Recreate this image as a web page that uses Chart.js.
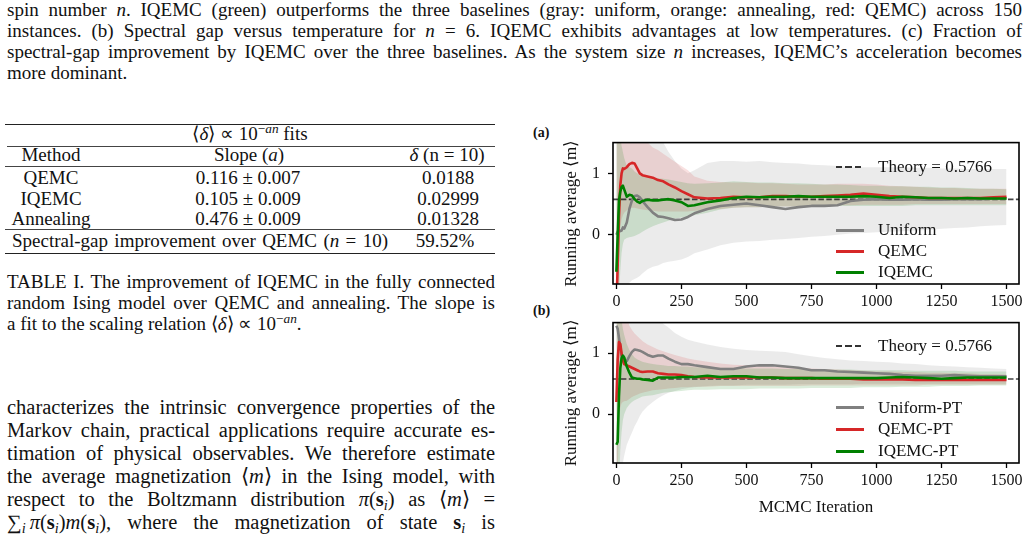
<!DOCTYPE html>
<html>
<head>
<meta charset="utf-8">
<script src="https://cdn.jsdelivr.net/npm/chart.js@4.4.0/dist/chart.umd.min.js"></script>
<style>
html,body{margin:0;padding:0;background:#fff;}
body{width:1029px;height:544px;overflow:hidden;position:relative;font-family:'Liberation Serif','Times New Roman',serif;color:#111;}
.t{position:absolute;white-space:nowrap;font-size:19px;line-height:22px;transform-origin:left center;}
.t.b{font-size:20.5px;line-height:24px;}
.t sub{font-size:0.7em;vertical-align:-0.25em;line-height:0;}
.t sup{font-size:0.7em;vertical-align:0.5em;line-height:0;}
.rule{position:absolute;background:#222;}
.lgt{position:absolute;white-space:nowrap;font-size:17px;line-height:20px;color:#111;}
.hd{position:absolute;width:28px;height:3px;}
.pl{position:absolute;font-weight:bold;font-size:14px;line-height:16px;}
canvas{position:absolute;}
</style>
</head>
<body>
<!-- top caption -->
<div class="t" data-m="j" data-w="1015" style="left:7px;top:-1px">spin number <i>n</i>. IQEMC (green) outperforms the three baselines (gray: uniform, orange: annealing, red: QEMC) across 150</div>
<div class="t" data-m="j" data-w="1015" style="left:7px;top:20px">instances. (b) Spectral gap versus temperature for <i>n</i> = 6. IQEMC exhibits advantages at low temperatures. (c) Fraction of</div>
<div class="t" data-m="j" data-w="1015" style="left:7px;top:41px">spectral-gap improvement by IQEMC over the three baselines. As the system size <i>n</i> increases, IQEMC’s acceleration becomes</div>
<div class="t" style="left:7px;top:62px">more dominant.</div>

<!-- table -->
<div class="rule" style="left:5px;top:124px;width:490px;height:1.4px"></div>
<div class="t" data-m="c" data-x="250" style="top:123px">⟨<i>δ</i>⟩ ∝ 10<sup>−<i>an</i></sup> fits</div>
<div class="rule" style="left:7px;top:146px;width:488px;height:1px;background:#444"></div>
<div class="t" data-m="c" data-x="51" style="top:144px">Method</div>
<div class="t" data-m="c" data-x="249" style="top:144px">Slope (<i>a</i>)</div>
<div class="t" data-m="c" data-x="447" style="top:144px"><i>δ</i> (n = 10)</div>
<div class="rule" style="left:5px;top:166px;width:490px;height:1px;background:#444"></div>
<div class="t" data-m="c" data-x="51" style="top:167px">QEMC</div>
<div class="t" data-m="c" data-x="248" style="top:167px">0.116 ± 0.007</div>
<div class="t" data-m="c" data-x="448" style="top:167px">0.0188</div>
<div class="t" data-m="c" data-x="51" style="top:188px">IQEMC</div>
<div class="t" data-m="c" data-x="248" style="top:188px">0.105 ± 0.009</div>
<div class="t" data-m="c" data-x="448" style="top:188px">0.02999</div>
<div class="t" data-m="c" data-x="51" style="top:208px">Annealing</div>
<div class="t" data-m="c" data-x="248" style="top:208px">0.476 ± 0.009</div>
<div class="t" data-m="c" data-x="448" style="top:208px">0.01328</div>
<div class="rule" style="left:5px;top:229px;width:490px;height:1px;background:#444"></div>
<div class="t" data-m="j" data-w="376" style="left:12px;top:230px">Spectral-gap improvement over QEMC (<i>n</i> = 10)</div>
<div class="t" data-m="c" data-x="445" style="top:230px">59.52%</div>
<div class="rule" style="left:5px;top:253px;width:490px;height:1.4px"></div>

<!-- table caption -->
<div class="t" data-m="j" data-w="488" style="left:7px;top:271px">TABLE I. The improvement of IQEMC in the fully connected</div>
<div class="t" data-m="j" data-w="488" style="left:7px;top:292px">random Ising model over QEMC and annealing. The slope is</div>
<div class="t" style="left:7px;top:313px">a fit to the scaling relation ⟨<i>δ</i>⟩ ∝ 10<sup>−<i>an</i></sup>.</div>

<!-- body text -->
<div class="t b" data-m="j" data-w="488" style="left:7px;top:395px">characterizes the intrinsic convergence properties of the</div>
<div class="t b" data-m="j" data-w="488" style="left:7px;top:418px">Markov chain, practical applications require accurate es-</div>
<div class="t b" data-m="j" data-w="488" style="left:7px;top:441px">timation of physical observables. We therefore estimate</div>
<div class="t b" data-m="j" data-w="488" style="left:7px;top:464px">the average magnetization ⟨<i>m</i>⟩ in the Ising model, with</div>
<div class="t b" data-m="j" data-w="488" style="left:7px;top:487px">respect to the Boltzmann distribution <i>π</i>(<b>s</b><sub><i>i</i></sub>) as ⟨<i>m</i>⟩ =</div>
<div class="t b" data-m="j" data-w="488" style="left:7px;top:510px">∑<sub style="margin-right:4px"><i>i</i></sub><i>π</i>(<b>s</b><sub><i>i</i></sub>)<i>m</i>(<b>s</b><sub><i>i</i></sub>), where the magnetization of state <b>s</b><sub><i>i</i></sub> is</div>

<!-- panel labels -->
<div class="pl" style="left:533px;top:125px">(a)</div>
<div class="pl" style="left:533px;top:303px">(b)</div>

<canvas id="cA" width="499" height="190" style="left:530px;top:125px"></canvas>
<canvas id="cB" width="499" height="239" style="left:530px;top:305px"></canvas>

<!-- legends -->
<div class="hd" style="left:836px;top:166px;height:2px;background:repeating-linear-gradient(to right,#333 0 6px,transparent 6px 9.5px)"></div>
<div class="lgt" style="left:878px;top:157px">Theory = 0.5766</div>
<div class="hd" style="left:836px;top:229px;background:#808080"></div>
<div class="lgt" style="left:878px;top:220px">Uniform</div>
<div class="hd" style="left:836px;top:250px;background:#d62728"></div>
<div class="lgt" style="left:878px;top:241px">QEMC</div>
<div class="hd" style="left:836px;top:271px;background:#008000"></div>
<div class="lgt" style="left:878px;top:262px">IQEMC</div>

<div class="hd" style="left:836px;top:345px;height:2px;background:repeating-linear-gradient(to right,#333 0 6px,transparent 6px 9.5px)"></div>
<div class="lgt" style="left:878px;top:336px">Theory = 0.5766</div>
<div class="hd" style="left:836px;top:406px;background:#808080"></div>
<div class="lgt" style="left:878px;top:398px">Uniform-PT</div>
<div class="hd" style="left:836px;top:428px;background:#d62728"></div>
<div class="lgt" style="left:878px;top:419px">QEMC-PT</div>
<div class="hd" style="left:836px;top:450px;background:#008000"></div>
<div class="lgt" style="left:878px;top:441px">IQEMC-PT</div>

<script>
// ---------- data ----------
const ITER = [0,5,10,15,20,25,30,40,50,60,70,80,90,100,120,140,160,180,200,225,250,275,300,350,400,450,500,550,600,650,700,750,800,850,900,950,1000,1050,1100,1150,1200,1250,1300,1350,1400,1450,1500];
const THEORY = 0.5766;
const X_TICKS = [0,250,500,750,1000,1250,1500];
const Y_TICKS = [0,1];
const X_MIN = -13, X_MAX = 1548, Y_MIN = -0.8, Y_MAX = 1.5;

// panel (a)
const uniformA   = [0.00,0.05,0.08,0.06,0.07,0.12,0.10,0.20,0.42,0.56,0.63,0.64,0.61,0.55,0.45,0.36,0.30,0.29,0.27,0.24,0.25,0.29,0.35,0.42,0.47,0.49,0.51,0.48,0.45,0.42,0.45,0.47,0.47,0.48,0.55,0.57,0.58,0.57,0.57,0.58,0.57,0.57,0.58,0.58,0.58,0.59,0.59];
const uniformALo = [-2,-2,-2,-1.5,-1.2,-1.0,-0.9,-0.82,-0.78,-0.74,-0.72,-0.7,-0.67,-0.63,-0.56,-0.52,-0.5,-0.46,-0.44,-0.42,-0.4,-0.36,-0.3,-0.24,-0.17,-0.13,-0.11,-0.1,-0.08,-0.07,-0.05,-0.03,-0.02,0.0,0.02,0.03,0.04,0.05,0.06,0.07,0.08,0.1,0.11,0.12,0.14,0.15,0.16];
const uniformAHi = [2,2,2,2,2,2,2,2,2,2,2,2,2,2,2,2,1.7,1.5,1.35,1.2,1.08,1.0,1.05,1.17,1.2,1.2,1.19,1.2,1.18,1.17,1.16,1.14,1.13,1.12,1.1,1.1,1.1,1.1,1.1,1.09,1.09,1.08,1.08,1.07,1.07,1.07,1.07];
const qemcA   = [-1.2,-0.5,0.3,0.8,1.0,1.08,1.07,1.10,1.15,1.17,1.16,1.08,1.00,0.97,0.95,0.93,0.89,0.87,0.82,0.77,0.71,0.66,0.61,0.59,0.60,0.62,0.61,0.61,0.63,0.63,0.62,0.62,0.63,0.64,0.65,0.67,0.65,0.63,0.62,0.61,0.60,0.60,0.60,0.60,0.60,0.61,0.62];
const qemcALo = [-2,-1.2,-0.3,0.1,0.25,0.32,0.36,0.4,0.42,0.44,0.44,0.43,0.42,0.41,0.4,0.39,0.38,0.38,0.38,0.38,0.38,0.38,0.39,0.4,0.42,0.44,0.45,0.45,0.46,0.46,0.46,0.47,0.47,0.48,0.48,0.49,0.49,0.49,0.49,0.5,0.5,0.5,0.5,0.5,0.5,0.5,0.5];
const qemcAHi = [2,2,2,2,2,2,2,2,2,2,2,2,2,1.6,1.5,1.42,1.38,1.32,1.26,1.19,1.12,1.05,0.95,0.88,0.86,0.85,0.85,0.84,0.84,0.83,0.82,0.82,0.82,0.83,0.83,0.83,0.82,0.8,0.79,0.78,0.77,0.76,0.76,0.75,0.75,0.75,0.75];
const iqemcA   = [-0.6,0.0,0.55,0.70,0.78,0.80,0.74,0.62,0.65,0.64,0.58,0.54,0.52,0.55,0.57,0.56,0.56,0.57,0.58,0.56,0.53,0.47,0.48,0.53,0.56,0.60,0.62,0.61,0.62,0.62,0.63,0.62,0.62,0.62,0.62,0.63,0.62,0.60,0.62,0.61,0.60,0.60,0.59,0.60,0.59,0.59,0.59];
const iqemcALo = [-2,-1.5,-1.0,-0.6,-0.3,-0.15,-0.08,-0.05,-0.04,-0.03,-0.02,0.0,0.02,0.05,0.1,0.14,0.17,0.2,0.23,0.26,0.28,0.3,0.32,0.36,0.41,0.44,0.45,0.45,0.46,0.46,0.46,0.46,0.47,0.47,0.47,0.47,0.47,0.47,0.47,0.48,0.48,0.48,0.48,0.48,0.48,0.48,0.48];
const iqemcAHi = [2,2,1.8,1.6,1.45,1.35,1.25,1.12,1.1,1.08,1.03,1.0,0.97,0.96,0.95,0.93,0.92,0.91,0.9,0.88,0.86,0.84,0.83,0.84,0.85,0.87,0.86,0.85,0.85,0.84,0.84,0.83,0.82,0.82,0.81,0.8,0.8,0.79,0.79,0.78,0.78,0.77,0.77,0.76,0.75,0.75,0.74];

// panel (b)
const uniformB   = [1.45,1.4,1.25,1.1,0.95,0.9,0.88,0.87,0.95,1.02,1.06,1.05,1.04,1.02,0.97,0.94,0.96,0.96,0.91,0.86,0.82,0.82,0.8,0.77,0.74,0.74,0.78,0.8,0.8,0.78,0.76,0.72,0.72,0.7,0.69,0.68,0.67,0.66,0.64,0.63,0.63,0.63,0.64,0.63,0.62,0.62,0.62];
const uniformBLo = [-2,-2,-2,-1.4,-1.0,-0.8,-0.68,-0.5,-0.4,-0.3,-0.2,-0.12,-0.03,0.04,0.13,0.2,0.26,0.31,0.35,0.38,0.41,0.43,0.44,0.46,0.47,0.47,0.48,0.48,0.48,0.48,0.49,0.49,0.49,0.49,0.49,0.5,0.5,0.5,0.5,0.5,0.5,0.5,0.5,0.5,0.5,0.5,0.5];
const uniformBHi = [2,2,2,2,2,2,2,2,2,2,2,2,2,2,2,2,1.6,1.48,1.42,1.33,1.27,1.22,1.19,1.14,1.1,1.07,1.05,1.04,1.03,1.02,0.98,0.95,0.92,0.9,0.88,0.87,0.86,0.85,0.83,0.82,0.8,0.79,0.78,0.77,0.76,0.75,0.74];
const qemcB   = [0.2,0.9,1.18,1.15,1.0,0.88,0.82,0.8,0.78,0.76,0.74,0.72,0.7,0.69,0.7,0.7,0.67,0.66,0.65,0.65,0.64,0.62,0.61,0.6,0.6,0.6,0.6,0.6,0.6,0.59,0.59,0.59,0.58,0.58,0.58,0.57,0.57,0.57,0.57,0.56,0.56,0.56,0.56,0.56,0.56,0.56,0.56];
const qemcBLo = [-2,-1,-0.2,0.1,0.18,0.2,0.21,0.22,0.25,0.28,0.3,0.32,0.34,0.35,0.37,0.39,0.4,0.41,0.42,0.43,0.44,0.44,0.45,0.45,0.46,0.46,0.46,0.46,0.46,0.46,0.46,0.47,0.47,0.47,0.47,0.47,0.47,0.47,0.47,0.47,0.48,0.48,0.48,0.48,0.48,0.48,0.48];
const qemcBHi = [2,2,2,2,2,2,2,1.6,1.45,1.38,1.32,1.28,1.24,1.2,1.14,1.1,1.06,1.03,1.0,0.97,0.94,0.91,0.89,0.86,0.83,0.81,0.8,0.79,0.78,0.77,0.76,0.75,0.74,0.73,0.72,0.71,0.7,0.7,0.69,0.69,0.68,0.68,0.67,0.67,0.66,0.66,0.65];
const iqemcB   = [-0.5,-0.45,0.3,0.75,0.92,0.96,0.93,0.78,0.68,0.6,0.59,0.58,0.58,0.57,0.56,0.55,0.6,0.6,0.6,0.6,0.61,0.61,0.61,0.63,0.61,0.62,0.62,0.6,0.6,0.59,0.59,0.59,0.59,0.59,0.59,0.59,0.59,0.6,0.61,0.6,0.59,0.58,0.59,0.6,0.6,0.6,0.6];
const iqemcBLo = [-2,-2,-1.2,-0.6,-0.3,-0.1,0.0,0.1,0.16,0.2,0.23,0.25,0.27,0.29,0.3,0.31,0.33,0.35,0.36,0.37,0.38,0.39,0.4,0.4,0.41,0.41,0.41,0.42,0.42,0.42,0.42,0.43,0.43,0.43,0.43,0.44,0.44,0.44,0.45,0.45,0.45,0.46,0.46,0.46,0.47,0.47,0.47];
const iqemcBHi = [2,2,2,1.8,1.55,1.4,1.3,1.15,1.05,0.98,0.93,0.9,0.88,0.86,0.84,0.82,0.81,0.8,0.79,0.79,0.78,0.78,0.77,0.77,0.76,0.76,0.75,0.75,0.75,0.74,0.74,0.74,0.73,0.73,0.73,0.72,0.72,0.72,0.72,0.71,0.71,0.71,0.71,0.7,0.7,0.7,0.7];

// ---------- styles ----------
const GRAY = '#808080', RED = '#d62728', GREEN = '#008000';
const FONT = "'Liberation Serif', 'Times New Roman', serif";

const seriesA = [
  {label:'Uniform', color:GRAY,  band:'rgba(128,128,128,0.16)', mean:uniformA, lo:uniformALo, hi:uniformAHi},
  {label:'QEMC',    color:RED,   band:'rgba(214,39,40,0.14)',   mean:qemcA,    lo:qemcALo,    hi:qemcAHi},
  {label:'IQEMC',   color:GREEN, band:'rgba(0,128,0,0.14)',     mean:iqemcA,   lo:iqemcALo,   hi:iqemcAHi}
];
const seriesB = [
  {label:'Uniform-PT', color:GRAY,  band:'rgba(128,128,128,0.16)', mean:uniformB, lo:uniformBLo, hi:uniformBHi},
  {label:'QEMC-PT',    color:RED,   band:'rgba(214,39,40,0.14)',   mean:qemcB,    lo:qemcBLo,    hi:qemcBHi},
  {label:'IQEMC-PT',   color:GREEN, band:'rgba(0,128,0,0.14)',     mean:iqemcB,   lo:iqemcBLo,   hi:iqemcBHi}
];

function pts(arr){ return ITER.map((x,i)=>({x:x, y:arr[i]})); }

function buildDatasets(series){
  const rev = series.slice().reverse();
  const lines = rev.map(s=>({label:s.label, data:pts(s.mean), borderColor:s.color, borderWidth:2.6,
    pointRadius:0, fill:false, tension:0, borderCapStyle:'butt', borderJoinStyle:'round'}));
  const theory = {label:'Theory', data:[{x:X_MIN,y:THEORY},{x:X_MAX,y:THEORY}],
    borderColor:'rgba(35,35,35,0.85)', borderWidth:1.6, borderDash:[5.5,2.4], pointRadius:0, fill:false};
  const bands = [];
  rev.forEach(s=>{
    bands.push({label:s.label+' hi', data:pts(s.hi), borderColor:'transparent', borderWidth:0, pointRadius:0, fill:'+1', backgroundColor:s.band, tension:0});
    bands.push({label:s.label+' lo', data:pts(s.lo), borderColor:'transparent', borderWidth:0, pointRadius:0, fill:false, tension:0});
  });
  return lines.concat([theory], bands);
}

const frame = {
  id:'frame',
  afterDatasetsDraw(chart){
    const a = chart.chartArea, c = chart.ctx;
    c.save(); c.strokeStyle='#000'; c.lineWidth=1.6; c.setLineDash([]);
    c.strokeRect(a.left, a.top, a.right-a.left, a.bottom-a.top);
    c.restore();
  }
};

function makeChart(id, series, xHeight, xTitle){
  return new Chart(document.getElementById(id), {
    type:'line',
    data:{datasets:buildDatasets(series)},
    plugins:[frame],
    options:{
      responsive:false, animation:false, events:[],
      layout:{padding:{top:15, right:10, left:0, bottom:0}, autoPadding:false},
      plugins:{legend:{display:false}, tooltip:{enabled:false}},
      scales:{
        x:{type:'linear', min:X_MIN, max:X_MAX,
          afterBuildTicks:s=>{ s.ticks = X_TICKS.map(v=>({value:v})); },
          afterFit:s=>{ s.height = xHeight; },
          grid:{display:true, drawOnChartArea:false, drawTicks:true, tickLength:5, tickWidth:1.3, tickColor:'#000'},
          border:{display:false},
          ticks:{color:'#111', font:{family:FONT, size:16}, padding:3, maxRotation:0, autoSkip:false,
                 callback:v=>String(v)},
          title:{display:!!xTitle, text:xTitle||'', color:'#111', font:{family:FONT, size:17}, padding:{top:0, bottom:26}}
        },
        y:{type:'linear', min:Y_MIN, max:Y_MAX,
          afterBuildTicks:s=>{ s.ticks = Y_TICKS.map(v=>({value:v})); },
          afterFit:s=>{ s.width = 83; },
          grid:{display:true, drawOnChartArea:false, drawTicks:true, tickLength:5, tickWidth:1.3, tickColor:'#000'},
          border:{display:false},
          ticks:{color:'#111', font:{family:FONT, size:16}, padding:8, callback:v=>String(v)},
          title:{display:true, text:'Running average ⟨m⟩', color:'#111', font:{family:FONT, size:17}, padding:{top:31, bottom:0}}
        }
      }
    }
  });
}

makeChart('cA', seriesA, 31, null);
makeChart('cB', seriesB, 81, 'MCMC Iteration');

// ---------- text fitting ----------
document.querySelectorAll('.t').forEach(el=>{
  const m = el.dataset.m;
  const nat = el.getBoundingClientRect().width;
  if (m === 'j') {
    const w = parseFloat(el.dataset.w);
    const spaces = (el.textContent.match(/ /g)||[]).length;
    if (nat < w && spaces) el.style.wordSpacing = ((w-nat)/spaces)+'px';
    else if (nat > w) el.style.transform = 'scaleX('+(w/nat)+')';
  } else if (m === 'c') {
    el.style.left = (parseFloat(el.dataset.x) - nat/2)+'px';
  }
});
</script>
</body>
</html>
